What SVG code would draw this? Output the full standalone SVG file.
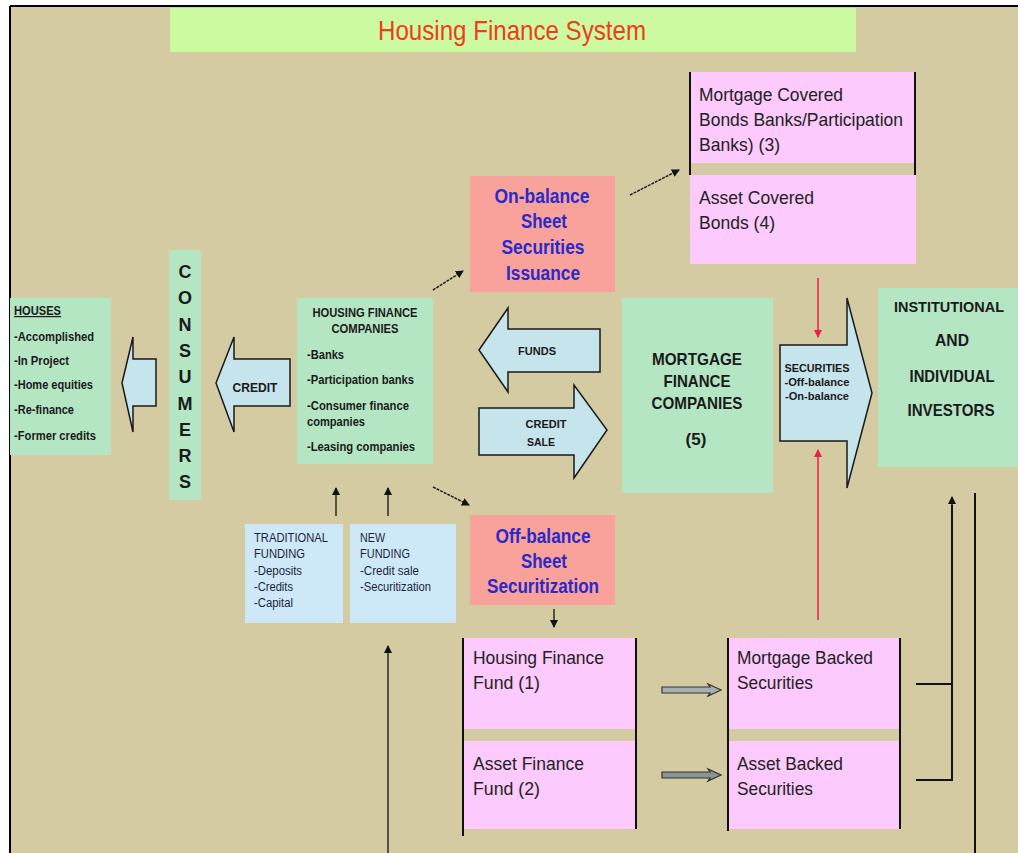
<svg xmlns="http://www.w3.org/2000/svg" width="1018" height="853" viewBox="0 0 1018 853">
<defs>
<style>
.n{font-family:"Liberation Sans",Arial,sans-serif}
.b{font-weight:bold;fill:#1a1a1a}
.pk{fill:#fccafc}
.mint{fill:#b5e6c3}
.sal{fill:#f9a19b}
.lb{fill:#cde9f8}
.arr{fill:#c6e4ec;stroke:#1a1a1a;stroke-width:1.5}
.pt{font-size:19px;fill:#222}
.bt{font-size:20px;font-weight:bold;fill:#2a2ac8;text-anchor:middle}
.ln{stroke:#111;stroke-width:2;fill:none}
.da{stroke:#222;stroke-width:1.5;stroke-dasharray:3 1;fill:none}
.red{stroke:#e8204a;stroke-width:1.5;fill:none}
</style>
<marker id="ah" markerWidth="8" markerHeight="8" refX="7" refY="4" orient="auto" markerUnits="userSpaceOnUse"><path d="M0,0 L8,4 L0,8 z" fill="#111"/></marker>
<marker id="rh" markerWidth="8" markerHeight="8" refX="7" refY="4" orient="auto" markerUnits="userSpaceOnUse"><path d="M0,0 L8,4 L0,8 z" fill="#e8204a"/></marker>
</defs>
<rect width="1018" height="853" fill="#fff"/>
<rect x="10" y="6" width="1008" height="847" fill="#d4cba2"/>
<line x1="10" y1="6" x2="1018" y2="6" stroke="#000" stroke-width="2"/>
<line x1="10" y1="6" x2="10" y2="853" stroke="#000" stroke-width="2"/>

<g id="title">
<rect x="170" y="8" width="686" height="44" fill="#ccfaa0"/>
<text x="512" y="40" class="n" font-size="28" fill="#f03c1e" text-anchor="middle" textLength="268" lengthAdjust="spacingAndGlyphs">Housing Finance System</text>
</g>

<g id="mortgage-covered">
<rect x="690" y="72" width="226" height="91" class="pk"/>
<text class="n pt" x="699" y="101" textLength="144" lengthAdjust="spacingAndGlyphs">Mortgage Covered</text>
<text class="n pt" x="699" y="126" textLength="204" lengthAdjust="spacingAndGlyphs">Bonds Banks/Participation</text>
<text class="n pt" x="699" y="151" textLength="81" lengthAdjust="spacingAndGlyphs">Banks) (3)</text>
</g>
<g id="asset-covered">
<rect x="690" y="175" width="226" height="89" class="pk"/>
<text class="n pt" x="699" y="204" textLength="115" lengthAdjust="spacingAndGlyphs">Asset Covered</text>
<text class="n pt" x="699" y="229" textLength="76" lengthAdjust="spacingAndGlyphs">Bonds (4)</text>
</g>

<g id="on-balance">
<rect x="470" y="176" width="145" height="116" class="sal"/>
<text class="n bt" x="542" y="203" textLength="95" lengthAdjust="spacingAndGlyphs">On-balance</text>
<text class="n bt" x="544" y="228" textLength="46" lengthAdjust="spacingAndGlyphs">Sheet</text>
<text class="n bt" x="543" y="254" textLength="83" lengthAdjust="spacingAndGlyphs">Securities</text>
<text class="n bt" x="543" y="280" textLength="74" lengthAdjust="spacingAndGlyphs">Issuance</text>
</g>

<g id="off-balance">
<rect x="470" y="515" width="145" height="90" class="sal"/>
<text class="n bt" x="543" y="543" textLength="95" lengthAdjust="spacingAndGlyphs">Off-balance</text>
<text class="n bt" x="544" y="568" textLength="46" lengthAdjust="spacingAndGlyphs">Sheet</text>
<text class="n bt" x="543" y="593" textLength="112" lengthAdjust="spacingAndGlyphs">Securitization</text>
</g>

<g id="houses">
<rect x="10" y="298" width="101" height="157" class="mint"/>
<g class="n b" font-size="12">
<text x="14" y="315" text-decoration="underline" textLength="47" lengthAdjust="spacingAndGlyphs">HOUSES</text>
<text x="14" y="341" textLength="80" lengthAdjust="spacingAndGlyphs">-Accomplished</text>
<text x="14" y="365" textLength="55" lengthAdjust="spacingAndGlyphs">-In Project</text>
<text x="14" y="389" textLength="79" lengthAdjust="spacingAndGlyphs">-Home equities</text>
<text x="14" y="414" textLength="60" lengthAdjust="spacingAndGlyphs">-Re-finance</text>
<text x="14" y="440" textLength="82" lengthAdjust="spacingAndGlyphs">-Former credits</text>
</g>
</g>

<g id="consumers">
<rect x="169" y="250" width="32" height="250" class="mint"/>
<g class="n b" font-size="18" text-anchor="middle">
<text x="185" y="278">C</text>
<text x="185" y="304">O</text>
<text x="185" y="331">N</text>
<text x="185" y="357">S</text>
<text x="185" y="383">U</text>
<text x="185" y="410">M</text>
<text x="185" y="436">E</text>
<text x="185" y="462">R</text>
<text x="185" y="488">S</text>
</g>
</g>

<g id="hfc">
<rect x="297" y="298" width="136" height="166" class="mint"/>
<g class="n b" font-size="12">
<text x="365" y="317" text-anchor="middle" textLength="105" lengthAdjust="spacingAndGlyphs">HOUSING FINANCE</text>
<text x="365" y="333" text-anchor="middle" textLength="67" lengthAdjust="spacingAndGlyphs">COMPANIES</text>
<text x="307" y="359" textLength="37" lengthAdjust="spacingAndGlyphs">-Banks</text>
<text x="307" y="384" textLength="107" lengthAdjust="spacingAndGlyphs">-Participation banks</text>
<text x="307" y="410" textLength="102" lengthAdjust="spacingAndGlyphs">-Consumer finance</text>
<text x="307" y="426" textLength="58" lengthAdjust="spacingAndGlyphs">companies</text>
<text x="307" y="451" textLength="108" lengthAdjust="spacingAndGlyphs">-Leasing companies</text>
</g>
</g>

<g id="mfc">
<rect x="622" y="298" width="151" height="195" class="mint"/>
<g class="n b" font-size="17" text-anchor="middle">
<text x="697" y="365" textLength="90" lengthAdjust="spacingAndGlyphs">MORTGAGE</text>
<text x="697" y="387" textLength="67" lengthAdjust="spacingAndGlyphs">FINANCE</text>
<text x="697" y="409" textLength="91" lengthAdjust="spacingAndGlyphs">COMPANIES</text>
<text x="696" y="445">(5)</text>
</g>
</g>

<g id="investors">
<rect x="878" y="288" width="140" height="179" class="mint"/>
<g class="n b" font-size="17" text-anchor="middle">
<text x="949" y="312" font-size="15.5" textLength="110" lengthAdjust="spacingAndGlyphs">INSTITUTIONAL</text>
<text x="952" y="346" textLength="34" lengthAdjust="spacingAndGlyphs">AND</text>
<text x="952" y="382" textLength="85" lengthAdjust="spacingAndGlyphs">INDIVIDUAL</text>
<text x="951" y="416" textLength="87" lengthAdjust="spacingAndGlyphs">INVESTORS</text>
</g>
</g>

<g id="traditional">
<rect x="245" y="524" width="98" height="99" class="lb"/>
<g class="n" font-size="12" fill="#1e1e40">
<text x="254" y="542" textLength="74" lengthAdjust="spacingAndGlyphs">TRADITIONAL</text>
<text x="254" y="558" textLength="51" lengthAdjust="spacingAndGlyphs">FUNDING</text>
<text x="254" y="575" textLength="48" lengthAdjust="spacingAndGlyphs">-Deposits</text>
<text x="254" y="591" textLength="39" lengthAdjust="spacingAndGlyphs">-Credits</text>
<text x="254" y="607" textLength="39" lengthAdjust="spacingAndGlyphs">-Capital</text>
</g>
</g>

<g id="new-funding">
<rect x="350" y="524" width="106" height="99" class="lb"/>
<g class="n" font-size="12" fill="#1e1e40">
<text x="360" y="542" textLength="25" lengthAdjust="spacingAndGlyphs">NEW</text>
<text x="360" y="558" textLength="50" lengthAdjust="spacingAndGlyphs">FUNDING</text>
<text x="360" y="575" textLength="59" lengthAdjust="spacingAndGlyphs">-Credit sale</text>
<text x="360" y="591" textLength="71" lengthAdjust="spacingAndGlyphs">-Securitization</text>
</g>
</g>

<g id="hf-fund">
<rect x="463" y="638" width="173" height="91" class="pk"/>
<text class="n pt" x="473" y="664" textLength="131" lengthAdjust="spacingAndGlyphs">Housing Finance</text>
<text class="n pt" x="473" y="689" textLength="67" lengthAdjust="spacingAndGlyphs">Fund (1)</text>
</g>
<g id="af-fund">
<rect x="463" y="741" width="173" height="88" class="pk"/>
<text class="n pt" x="473" y="770" textLength="111" lengthAdjust="spacingAndGlyphs">Asset Finance</text>
<text class="n pt" x="473" y="795" textLength="67" lengthAdjust="spacingAndGlyphs">Fund (2)</text>
</g>
<g id="mbs">
<rect x="728" y="638" width="172" height="91" class="pk"/>
<text class="n pt" x="737" y="664" textLength="136" lengthAdjust="spacingAndGlyphs">Mortgage Backed</text>
<text class="n pt" x="737" y="689" textLength="76" lengthAdjust="spacingAndGlyphs">Securities</text>
</g>
<g id="abs">
<rect x="728" y="741" width="172" height="88" class="pk"/>
<text class="n pt" x="737" y="770" textLength="106" lengthAdjust="spacingAndGlyphs">Asset Backed</text>
<text class="n pt" x="737" y="795" textLength="76" lengthAdjust="spacingAndGlyphs">Securities</text>
</g>

<g id="connectors">
<line class="ln" x1="690" y1="72" x2="690" y2="175"/>
<line class="ln" x1="915" y1="72" x2="915" y2="175"/>
<line class="ln" x1="463" y1="638" x2="463" y2="836"/>
<line class="ln" x1="636" y1="638" x2="636" y2="829"/>
<line class="ln" x1="728" y1="638" x2="728" y2="831"/>
<line class="ln" x1="900" y1="638" x2="900" y2="829"/>

<polygon class="arr" points="122,383 133,337 133,359 156,359 156,406 133,406 133,432"/>
<polygon class="arr" points="216,383 234,337 234,359 290,359 290,406 234,406 234,432"/>
<text class="n b" font-size="12" x="255" y="392" text-anchor="middle" textLength="45" lengthAdjust="spacingAndGlyphs">CREDIT</text>
<polygon class="arr" points="479,350 508,308 508,329 600,329 600,372 508,372 508,392"/>
<text class="n b" font-size="11" x="537" y="355" text-anchor="middle" textLength="38" lengthAdjust="spacingAndGlyphs">FUNDS</text>
<polygon class="arr" points="479,408 574,408 574,385 607,430 574,478 574,455 479,455"/>
<text class="n b" font-size="11" x="546" y="428" text-anchor="middle" textLength="41" lengthAdjust="spacingAndGlyphs">CREDIT</text>
<text class="n b" font-size="11" x="541" y="446" text-anchor="middle" textLength="28" lengthAdjust="spacingAndGlyphs">SALE</text>
<polygon class="arr" points="780,345 847,345 847,298 872,393 847,488 847,441 780,441"/>
<g class="n b" font-size="11" text-anchor="middle">
<text x="817" y="372" textLength="65" lengthAdjust="spacingAndGlyphs">SECURITIES</text>
<text x="817" y="386" textLength="65" lengthAdjust="spacingAndGlyphs">-Off-balance</text>
<text x="817" y="400" textLength="64" lengthAdjust="spacingAndGlyphs">-On-balance</text>
</g>

<line class="da" x1="433" y1="290" x2="463" y2="271" marker-end="url(#ah)"/>
<line class="da" x1="630" y1="195" x2="679" y2="170" marker-end="url(#ah)"/>
<line class="da" x1="433" y1="487" x2="469" y2="505" marker-end="url(#ah)"/>
<line stroke="#111" stroke-width="1.3" x1="554" y1="609" x2="554" y2="627" marker-end="url(#ah)"/>
<line stroke="#111" stroke-width="1.3" x1="336" y1="516" x2="336" y2="488" marker-end="url(#ah)"/>
<line stroke="#111" stroke-width="1.3" x1="388" y1="516" x2="388" y2="488" marker-end="url(#ah)"/>
<line stroke="#111" stroke-width="1.3" x1="388" y1="853" x2="388" y2="646" marker-end="url(#ah)"/>

<line class="red" x1="818" y1="278" x2="818" y2="337" marker-end="url(#rh)"/>
<line class="red" x1="818" y1="620" x2="818" y2="450" marker-end="url(#rh)"/>

<polygon points="662,687 710,687 708,684 721,690 708,696 710,693 662,693" fill="#a8b0b0" stroke="#333" stroke-width="1.2"/>
<polygon points="662,772 710,772 708,769 721,775 708,781 710,778 662,778" fill="#8a9494" stroke="#333" stroke-width="1.2"/>

<polyline class="ln" points="916,684 952,684"/>
<polyline class="ln" points="916,780 952,780 952,505"/>
<line stroke="#111" stroke-width="1.3" x1="952" y1="506" x2="952" y2="497" marker-end="url(#ah)"/>
<line class="ln" x1="975" y1="493" x2="975" y2="853"/>
</g>
</svg>
